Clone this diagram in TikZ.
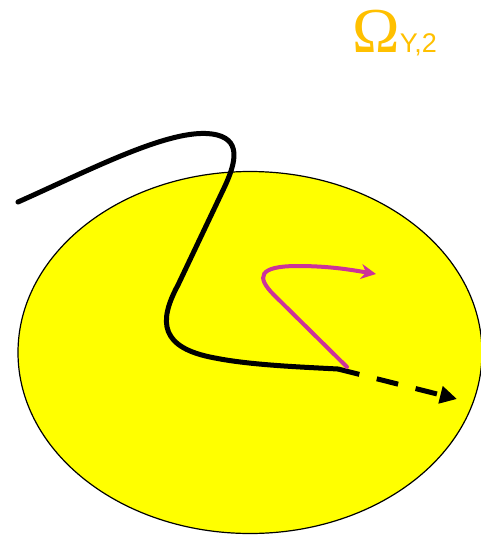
\documentclass[tikz,border=0pt]{standalone}
\usepackage{fontspec}
\setmainfont{Liberation Serif}
\newfontfamily\arialfont{Liberation Sans}
\usetikzlibrary{arrows.meta,shapes.geometric}
\definecolor{gold}{HTML}{FFC000}
\definecolor{magentaline}{HTML}{CC3399}
\definecolor{fillyellow}{HTML}{FFFF00}
\tikzset{
  blackpath/.style={line width=5pt, line cap=round, line join=round},
  dashpath/.style={line width=5pt, dash pattern=on 22pt off 18pt, -{Triangle[length=17pt,width=17pt]}},
  magpath/.style={draw=magentaline, line width=4pt, line cap=round, -{Stealth[length=15pt,width=15pt,inset=5pt]}},
}
\begin{document}
\begin{tikzpicture}[x=1pt,y=-1pt]
\useasboundingbox (0,0) rectangle (481,536);
\node[draw, line width=1.2pt, fill=fillyellow, ellipse, minimum width=464pt, minimum height=362pt, inner sep=0pt] (region) at (250,352.5) {};
\coordinate (start) at (18,202);
\coordinate (kink) at (338,369);
\coordinate (tip) at (457,399);
\draw[blackpath] (start) .. controls (90,170) and (170,128) .. (212,134)
  .. controls (242,138) and (236,162) .. (225,186)
  -- (178,285)
  .. controls (158,322) and (160,348) .. (215,358)
  .. controls (250,365) and (300,367) .. (kink);
\draw[dashpath] (kink) -- (tip);
\coordinate (mstart) at (347,367);
\coordinate (mtip) at (376,274);
\draw[magpath] (mstart) -- (274,295)
  .. controls (256,277) and (258,266) .. (298,266)
  .. controls (330,266) and (352,270) .. (mtip);
\node[anchor=base west, inner sep=0pt, text=gold] (label) at (352,52) {\fontsize{64}{64}\selectfont Ω\arialfont\fontsize{27}{27}\selectfont Y,2};
\end{tikzpicture}
\end{document}
